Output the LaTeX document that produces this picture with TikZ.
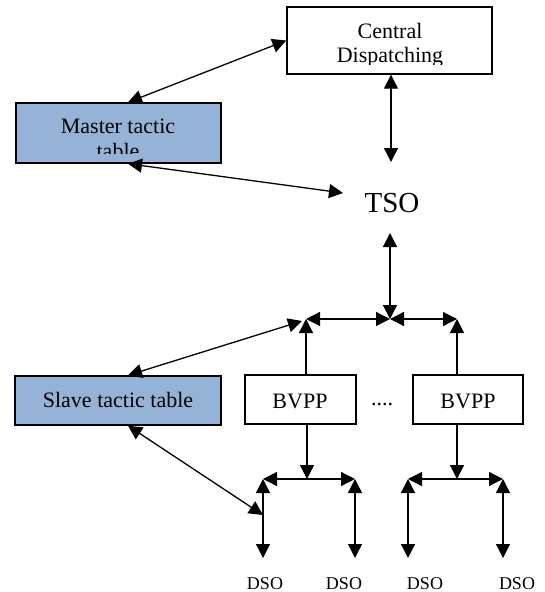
\documentclass[tikz,border=0pt]{standalone}
\usepackage{fontspec}
\setmainfont{Liberation Serif}
\usetikzlibrary{arrows.meta,calc}
\definecolor{boxblue}{HTML}{95B3D7}
\begin{document}
\begin{tikzpicture}[x=1pt,y=-1pt,line width=1.3pt,
  >={Triangle[length=14pt,width=14pt]},
  box/.style={draw=black,line width=1.4pt,rectangle,inner sep=0pt},
  lbl/.style={inner sep=0pt,anchor=base,font=\fontsize{22}{25}\selectfont},
  dso/.style={inner sep=0pt,anchor=base,font=\fontsize{18}{20}\selectfont}]
\useasboundingbox (0,0) rectangle (545,592);
% boxes
\node[box,minimum width=205pt,minimum height=67pt] (cd) at (389.5,40.5) {};
\node[box,fill=boxblue,minimum width=205pt,minimum height=60pt] (master) at (118.5,133) {};
\node[box,fill=boxblue,minimum width=206pt,minimum height=49pt] (slave) at (118,400.5) {};
\node[box,minimum width=111pt,minimum height=49pt] (bvppA) at (300.5,399.5) {};
\node[box,minimum width=110pt,minimum height=49pt] (bvppB) at (468,399.5) {};
% labels (clipped like the original)
\begin{scope}
\clip (287,7) rectangle (492,64);
\node[lbl] (cdA) at (390,38) {Central};
\node[lbl] (cdB) at (390,62.5) {Dispatching};
\end{scope}
\begin{scope}
\clip (16,103) rectangle (221,153);
\node[lbl] (msA) at (118,133) {Master tactic};
\node[lbl] (msB) at (118,158) {table};
\end{scope}
\node[lbl] (slA) at (118,407) {Slave tactic table};
\node[lbl] (bvA) at (300,408) {BVPP};
\node[lbl] (bvB) at (468,408) {BVPP};
\node[lbl] (dots) at (382,405) {....};
\node[inner sep=0pt,anchor=base,font=\fontsize{29}{32}\selectfont] (tso) at (392,212) {TSO};
\node[dso] (dso1) at (265,589) {DSO};
\node[dso] (dso2) at (344,589) {DSO};
\node[dso] (dso3) at (425,589) {DSO};
\node[dso] (dso4) at (517,589) {DSO};
% coordinates
\coordinate (tsoN) at (391,162);
\coordinate (tsoW) at (343,193);
\coordinate (tsoS) at (390,233);
\coordinate (hub) at (390,319);
\coordinate (hubL) at (306,319);
\coordinate (hubR) at (457,319);
\coordinate (slTip) at (302,321);
\coordinate (forkA) at (307,479);
\coordinate (aL) at (263,479);
\coordinate (aR) at (355,479);
\coordinate (forkB) at (457,479);
\coordinate (bL) at (408,479);
\coordinate (bR) at (503,479);
\coordinate (aLd) at (263,558);
\coordinate (aRd) at (355,558);
\coordinate (bLd) at (408,558);
\coordinate (bRd) at (503,558);
\coordinate (aMid) at (263,515);
% connectors
\draw[<->] ($(master.north)+(9.5,0)$) -- (cd.west);
\draw[<->] (cd.south -| tsoN) -- (tsoN);
\draw[<->] ($(master.south)+(9.5,0)$) -- (tsoW);
\draw[<->] (tsoS) -- (hub);
\draw[<->] (hubL) -- (hub);
\draw[<->] (hub) -- (hubR);
\draw[->] (bvppA.north -| hubL) -- (hubL);
\draw[->] (bvppB.north -| hubR) -- (hubR);
\draw[<->] ($(slave.north)+(10,0)$) -- (slTip);
\draw[->] (bvppA.south -| forkA) -- (forkA);
\draw[->] (bvppB.south -| forkB) -- (forkB);
\draw[<->] (aL) -- (aR);
\draw[<->] (bL) -- (bR);
\draw[<->] (aL) -- (aLd);
\draw[<->] (aR) -- (aRd);
\draw[<->] (bL) -- (bLd);
\draw[<->] (bR) -- (bRd);
\draw[<->] ($(slave.south)+(10,0)$) -- (aMid);
\end{tikzpicture}
\end{document}
